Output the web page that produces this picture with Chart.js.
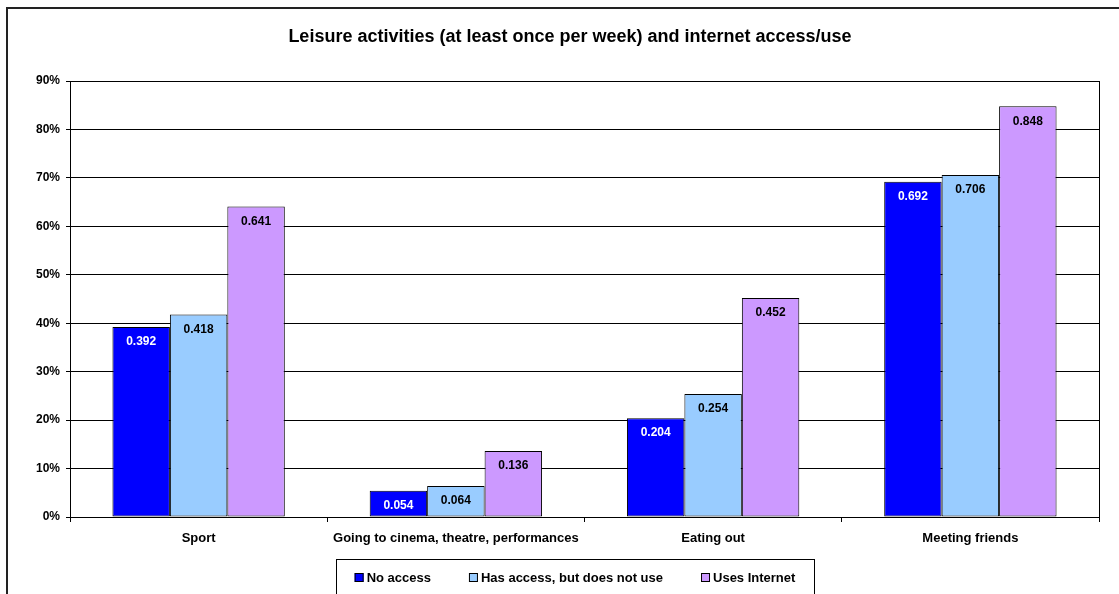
<!DOCTYPE html>
<html>
<head>
<meta charset="utf-8">
<script src="https://cdn.jsdelivr.net/npm/chart.js@4/dist/chart.umd.min.js"></script>
<style>
  html, body { margin: 0; padding: 0; background: #fff; }
  #wrap { width: 1119px; height: 594px; position: relative; }
</style>
</head>
<body>
<div id="wrap"><canvas id="myChart" width="1119" height="594"></canvas></div>
<script>
const titleText = "Leisure activities (at least once per week) and internet access/use";
const categories = ["Sport", "Going to cinema, theatre, performances", "Eating out", "Meeting friends"];
const seriesNames = ["No access", "Has access, but does not use", "Uses Internet"];
const noAccess = [0.392, 0.054, 0.204, 0.692];
const hasAccess = [0.418, 0.064, 0.254, 0.706];
const usesInternet = [0.641, 0.136, 0.452, 0.848];
const seriesColors = ["#0000FF", "#99CCFF", "#CC99FF"];
const labelColors = ["#fff", "#000", "#000"];

const FONT = "'Liberation Sans', Arial, sans-serif";

// draws frame, title, value labels and the boxed legend
const extras = {
  id: "extras",
  beforeDraw(chart) {
    const ctx = chart.ctx;
    ctx.save();
    ctx.fillStyle = "#fff";
    ctx.fillRect(0, 0, chart.width, chart.height);
    ctx.strokeStyle = "#222";
    ctx.lineWidth = 2;
    ctx.strokeRect(7, 8, 1130, 600);
    ctx.restore();
  },
  afterDraw(chart) {
    const ctx = chart.ctx;
    const area = chart.chartArea;
    ctx.save();

    // right border of the plot
    ctx.strokeStyle = "#000";
    ctx.lineWidth = 1;
    ctx.beginPath();
    ctx.moveTo(Math.round(area.right) + 0.5, area.top);
    ctx.lineTo(Math.round(area.right) + 0.5, area.bottom);
    ctx.stroke();

    // title
    ctx.fillStyle = "#000";
    ctx.font = "bold 18px " + FONT;
    ctx.textAlign = "center";
    ctx.textBaseline = "middle";
    ctx.fillText(titleText, 570, 37);

    // value labels inside the top of each bar
    ctx.font = "bold 12px " + FONT;
    chart.data.datasets.forEach((ds, i) => {
      const meta = chart.getDatasetMeta(i);
      meta.data.forEach((bar, j) => {
        ctx.fillStyle = labelColors[i];
        ctx.fillText(ds.data[j].toFixed(3), bar.x, bar.y + 15);
      });
    });

    // legend
    const boxL = 336, boxT = 559, boxR = 814;
    ctx.strokeStyle = "#000";
    ctx.lineWidth = 1;
    ctx.strokeRect(boxL + 0.5, boxT + 0.5, boxR - boxL, 60);
    ctx.font = "bold 13px " + FONT;
    ctx.textAlign = "left";
    const gap = 38;
    const widths = seriesNames.map((n) => 12 + ctx.measureText(n).width);
    const total = widths.reduce((a, b) => a + b, 0) + gap * (widths.length - 1);
    let x = (boxL + boxR) / 2 - total / 2;
    const cy = 578;
    seriesNames.forEach((name, i) => {
      ctx.fillStyle = seriesColors[i];
      ctx.fillRect(x, cy - 5, 9, 9);
      ctx.strokeStyle = "#000";
      ctx.strokeRect(x + 0.5, cy - 4.5, 8, 8);
      ctx.fillStyle = "#000";
      ctx.fillText(name, x + 12, cy);
      x += widths[i] + gap;
    });
    ctx.restore();
  },
};

const config = {
  type: "bar",
  data: {
    labels: categories,
    datasets: [
      { label: seriesNames[0], data: noAccess },
      { label: seriesNames[1], data: hasAccess },
      { label: seriesNames[2], data: usesInternet },
    ].map((d, i) => ({
      ...d,
      backgroundColor: seriesColors[i],
      borderColor: "#000",
      borderWidth: 1,
      borderSkipped: false,
      categoryPercentage: 0.67,
      barPercentage: 1,
    })),
  },
  options: {
    responsive: false,
    animation: false,
    layout: { padding: { left: 0, right: 20, top: 81, bottom: 0 } },
    plugins: {
      legend: { display: false },
      tooltip: { enabled: false },
    },
    scales: {
      x: {
        grid: {
          offset: true,
          drawOnChartArea: false,
          drawTicks: true,
          tickLength: 5,
          color: "#000",
        },
        border: { color: "#000", width: 1 },
        ticks: {
          color: "#000",
          font: { family: FONT, size: 13, weight: "bold" },
          padding: 9,
          maxRotation: 0,
          autoSkip: false,
        },
        afterFit: (scale) => { scale.height = 77; },
      },
      y: {
        min: 0,
        max: 0.9,
        ticks: {
          stepSize: 0.1,
          color: "#000",
          font: { family: FONT, size: 12, weight: "bold" },
          padding: 6,
          callback: (v) => Math.round(v * 100) + "%",
        },
        grid: { color: "#000", tickLength: 4 },
        border: { color: "#000", width: 1 },
        afterFit: (scale) => { scale.width = 70; },
      },
    },
  },
  plugins: [extras],
};

const myChart = new Chart(document.getElementById("myChart"), config);
</script>
</body>
</html>
